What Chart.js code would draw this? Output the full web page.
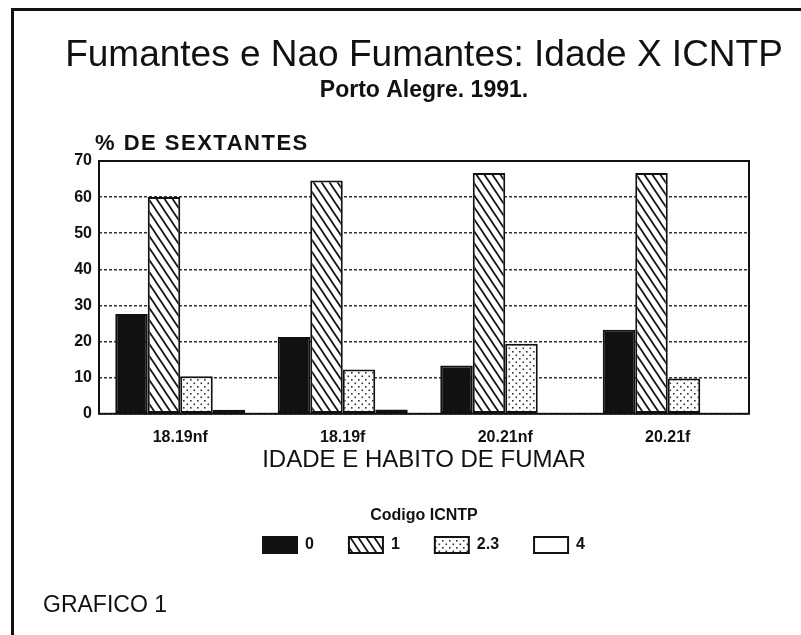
<!DOCTYPE html>
<html lang="pt">
<head>
<meta charset="utf-8">
<title>Fumantes e Nao Fumantes: Idade X ICNTP</title>
<script src="https://cdn.jsdelivr.net/npm/chart.js@4.4.1/dist/chart.umd.min.js"></script>
<style>
  html, body { margin: 0; padding: 0; background: #fff; overflow: hidden; }
  #quadro { position: relative; width: 801px; height: 635px; }
  #grafico-num { position: absolute; left: 43px; top: 593px; font: 23px/23px 'Liberation Sans', Arial, sans-serif; color: #111; }
</style>
</head>
<body>
<div id="quadro">
  <canvas id="myChart"></canvas>
  <div id="grafico-num">GRAFICO 1</div>
</div>
<script>
// valores (% de sextantes por codigo ICNTP)
var categorias = ['18.19nf', '18.19f', '20.21nf', '20.21f'];
var codigo0 = [27.6, 21.3, 13.4, 23.3];
var codigo1 = [60.0, 64.6, 66.7, 66.7];
var codigo23 = [10.4, 12.3, 19.4, 9.8];
var codigo4 = [1.1, 1.2, 0, 0];
var legendas = ['0', '1', '2.3', '4'];
var ticksY = [0, 10, 20, 30, 40, 50, 60, 70];

Chart.defaults.font.family = "'Liberation Sans', Arial, sans-serif";
Chart.defaults.color = '#111';

var ctx = document.getElementById('myChart');
var g = ctx.getContext('2d');

// listras diagonais (codigo 1)
function hachura() {
    var c = document.createElement('canvas');
    c.width = 8; c.height = 12;
    var t = c.getContext('2d');
    t.fillStyle = '#fff';
    t.fillRect(0, 0, 8, 12);
    t.strokeStyle = '#111';
    t.lineWidth = 1.8;
    t.beginPath();
    for (var k = -1; k <= 1; k++) {
        t.moveTo(k * 8 - 8, -12);
        t.lineTo(k * 8 + 16, 24);
    }
    t.stroke();
    return g.createPattern(c, 'repeat');
}

// pontinhos (codigo 2.3)
function pontilhado() {
    var c = document.createElement('canvas');
    c.width = 7; c.height = 7;
    var t = c.getContext('2d');
    t.fillStyle = '#fff';
    t.fillRect(0, 0, 7, 7);
    t.fillStyle = '#333';
    t.fillRect(1, 1, 1.6, 1.6);
    t.fillRect(4.5, 4.5, 1.6, 1.6);
    return g.createPattern(c, 'repeat');
}

var moldura = {
    id: 'moldura',
    beforeDraw: function (chart) {
        var c = chart.ctx;
        c.save();
        c.fillStyle = '#fff';
        c.fillRect(0, 0, chart.width, chart.height);
        c.strokeStyle = '#111';
        c.lineWidth = 3;
        c.beginPath();
        c.moveTo(12.5, chart.height);
        c.lineTo(12.5, 9.5);
        c.lineTo(chart.width, 9.5);
        c.stroke();
        c.restore();
    },
    afterDraw: function (chart) {
        var a = chart.chartArea;
        var c = chart.ctx;
        c.save();
        c.strokeStyle = '#111';
        c.lineWidth = 2;
        c.strokeRect(a.left, a.top, a.right - a.left, a.bottom - a.top);
        c.fillStyle = '#111';
        c.font = "bold 22px 'Liberation Sans', Arial, sans-serif";
        c.letterSpacing = '1.5px';
        c.textBaseline = 'alphabetic';
        c.fillText('% DE SEXTANTES', a.left - 4, a.top - 11);
        c.restore();
    }
};

var grafico = new Chart(ctx, {
    type: 'bar',
    data: {
        labels: categorias,
        datasets: [
            { label: legendas[0], data: codigo0, backgroundColor: '#111' },
            { label: legendas[1], data: codigo1, backgroundColor: hachura() },
            { label: legendas[2], data: codigo23, backgroundColor: pontilhado() },
            { label: legendas[3], data: codigo4, backgroundColor: '#fff' }
        ]
    },
    options: {
        responsive: true,
        maintainAspectRatio: false,
        animation: false,
        layout: { padding: { left: 47, right: 0, top: 0, bottom: 72 } },
        datasets: {
            bar: {
                borderColor: '#111',
                borderWidth: 2,
                borderSkipped: false,
                categoryPercentage: 0.8,
                barPercentage: 1
            }
        },
        scales: {
            x: {
                grid: { display: false },
                border: { display: false },
                ticks: { color: '#111', font: { size: 16, weight: 'bold' }, padding: 6 },
                title: {
                    display: true,
                    text: 'IDADE E HABITO DE FUMAR',
                    color: '#111',
                    font: { size: 24, weight: 'normal' },
                    padding: { top: -7, bottom: 0 }
                }
            },
            y: {
                min: 0,
                max: 70,
                afterBuildTicks: function (axis) {
                    axis.ticks = ticksY.map(function (v) { return { value: v }; });
                },
                afterFit: function (s) { s.width = 52; },
                grid: { color: '#333', lineWidth: 1.5, drawTicks: false },
                border: { display: false, dash: [3, 2] },
                ticks: { color: '#111', font: { size: 16, weight: 'bold' }, padding: 7 }
            },
            direita: {
                position: 'right',
                afterFit: function (s) { s.width = 52; },
                grid: { display: false },
                border: { display: false },
                ticks: { display: false }
            }
        },
        plugins: {
            title: {
                display: true,
                text: 'Fumantes e Nao Fumantes: Idade X ICNTP',
                color: '#111',
                font: { size: 37, weight: 'normal' },
                padding: { top: 34, bottom: 0 }
            },
            subtitle: {
                display: true,
                text: 'Porto Alegre. 1991.',
                color: '#111',
                font: { size: 23, weight: 'bold' },
                padding: { top: -2, bottom: 57 }
            },
            legend: {
                position: 'bottom',
                title: {
                    display: true,
                    text: 'Codigo ICNTP',
                    color: '#111',
                    font: { size: 16, weight: 'bold' },
                    padding: { top: 33, bottom: -25 }
                },
                labels: {
                    color: '#111',
                    boxWidth: 34,
                    boxHeight: 16,
                    padding: 35,
                    font: { size: 16, weight: 'bold' }
                }
            },
            tooltip: { enabled: false }
        }
    },
    plugins: [moldura]
});
</script>
</body>
</html>
